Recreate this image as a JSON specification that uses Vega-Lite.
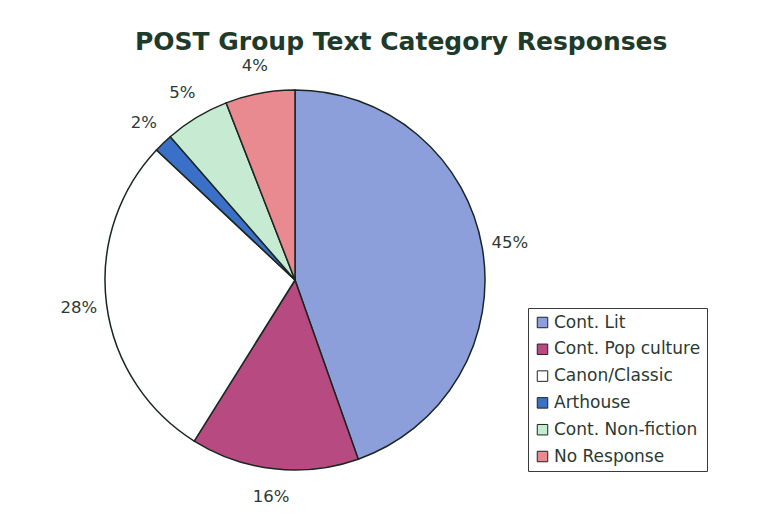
{
  "$schema": "https://vega.github.io/schema/vega-lite/v6.json",
  "autosize": "none",
  "width": 386,
  "height": 380,
  "padding": {"left": 102, "top": 90, "right": 285, "bottom": 47},
  "background": "white",
  "title": {
    "text": "POST Group Text Category Responses",
    "font": "DejaVu Sans",
    "fontWeight": "bold",
    "fontSize": 25,
    "color": "#1e3a2b",
    "anchor": "start",
    "frame": "group",
    "dx": 33,
    "offset": 3
  },
  "data": {
    "values": [
      {"idx": 1, "category": "Cont. Lit", "share": 44.6, "label": "45%"},
      {"idx": 2, "category": "Cont. Pop culture", "share": 14.3, "label": "16%"},
      {"idx": 3, "category": "Canon/Classic", "share": 28.1, "label": "28%"},
      {"idx": 4, "category": "Arthouse", "share": 1.6, "label": "2%"},
      {"idx": 5, "category": "Cont. Non-fiction", "share": 5.5, "label": "5%"},
      {"idx": 6, "category": "No Response", "share": 5.9, "label": "4%"}
    ]
  },
  "encoding": {
    "theta": {"field": "share", "type": "quantitative", "stack": true},
    "order": {"field": "idx", "type": "quantitative"}
  },
  "layer": [
    {
      "mark": {"type": "arc", "stroke": "#1a261f", "strokeWidth": 1.5},
      "encoding": {
        "color": {
          "field": "category",
          "type": "nominal",
          "sort": null,
          "scale": {
            "domain": ["Cont. Lit", "Cont. Pop culture", "Canon/Classic", "Arthouse", "Cont. Non-fiction", "No Response"],
            "range": ["#8c9fdb", "#b84a82", "#ffffff", "#3a70c8", "#c6ebd2", "#e88a90"]
          },
          "legend": {
            "title": null,
            "orient": "none",
            "legendX": 426,
            "legendY": 218,
            "strokeColor": "#3a3a3a",
            "fillColor": "white",
            "padding": 6,
            "symbolType": "square",
            "symbolSize": 110,
            "symbolStrokeColor": "#1a261f",
            "symbolStrokeWidth": 1,
            "symbolOpacity": 1,
            "labelFont": "DejaVu Sans",
            "labelFontSize": 17,
            "labelColor": "#2a3a33",
            "labelOffset": 3,
            "rowPadding": 8.8,
            "labelLimit": 300
          }
        }
      }
    },
    {
      "mark": {
        "type": "text",
        "radius": 218,
        "font": "DejaVu Sans",
        "fontSize": 16.5,
        "color": "#2a3a33",
        "align": "center",
        "baseline": "middle"
      },
      "encoding": {
        "text": {"field": "label", "type": "nominal"}
      }
    }
  ],
  "config": {
    "view": {"stroke": null}
  }
}
